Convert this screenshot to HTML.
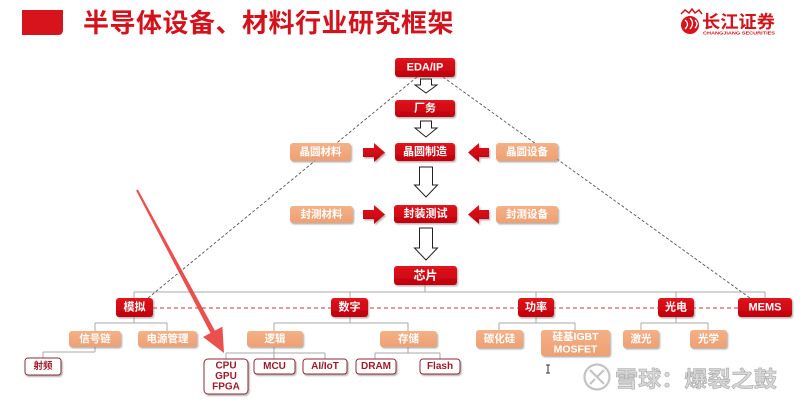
<!DOCTYPE html>
<html><head><meta charset="utf-8"><style>
html,body{margin:0;padding:0;background:#fff;}
svg{display:block;}
text{font-family:"Liberation Sans","Noto Sans CJK SC",sans-serif;font-weight:bold;}
</style></head><body>
<svg width="800" height="402" viewBox="0 0 800 402" xmlns="http://www.w3.org/2000/svg">
<defs>
<linearGradient id="rg" x1="0" y1="0" x2="0" y2="1"><stop offset="0" stop-color="#e2141c"/><stop offset="1" stop-color="#c0000c"/></linearGradient>
<linearGradient id="pg" x1="0" y1="0" x2="0" y2="1"><stop offset="0" stop-color="#f4b086"/><stop offset="1" stop-color="#eda073"/></linearGradient>
<filter id="sh" x="-20%" y="-30%" width="150%" height="180%"><feDropShadow dx="1.2" dy="1.5" stdDeviation="0.9" flood-color="#777" flood-opacity="0.55"/></filter>
</defs>
<rect width="800" height="402" fill="#fff"/>
<!-- header -->
<path d="M22 10 H63 V30 Q63 35 58 35 H22 Z" fill="#d7131b"/>
<text x="83" y="32" font-size="26" fill="#d3121b" letter-spacing="0.5">半导体设备、材料行业研究框架</text>
<!-- logo -->
<circle cx="690" cy="25" r="9" fill="#d7131b"/>
<path d="M685 20 q5 4 0 9 M690 18 q5 5 0 11 M695 20 q4 4 0 8" stroke="#fff" stroke-width="1.3" fill="none"/>
<path d="M681 14 l4 -4 l4 3 l3 -4 l3 4 l4 -3 l3 4" stroke="#d7131b" stroke-width="1.5" fill="none"/>
<text x="702" y="28" font-size="17.5" fill="#d3121b" textLength="73" lengthAdjust="spacingAndGlyphs">长江证券</text>
<text x="703" y="34.5" font-size="4.6" fill="#d3121b" textLength="72" lengthAdjust="spacingAndGlyphs">CHANGJIANG SECURITIES</text>

<!-- dashed diagonals -->
<line x1="417" y1="77" x2="148" y2="298" stroke="#555" stroke-width="0.9" stroke-dasharray="3 2"/>
<line x1="443" y1="77" x2="750" y2="298" stroke="#555" stroke-width="0.9" stroke-dasharray="3 2"/>
<!-- red dashed -->
<line x1="153" y1="308" x2="738" y2="308" stroke="#c23a44" stroke-width="1" stroke-dasharray="4 3"/>

<!-- tree lines -->
<g stroke="#a8a8a8" stroke-width="1" fill="none">
<path d="M425 285 V292 M134 292 H765 M134 292 V298 M350 292 V298 M536 292 V298 M676 292 V298 M765 292 V298"/>
<path d="M134 317 V323 M95 323 H167 M95 323 V331 M167 323 V331"/>
<path d="M95 347 V352 M43 352 H95 M43 352 V358"/>
<path d="M350 317 V323 M274 323 H408 M274 323 V331 M408 323 V331"/>
<path d="M274 347 V353 M226 353 H325 M226 353 V359 M274 353 V359 M325 353 V359"/>
<path d="M408 347 V353 M375 353 H440 M375 353 V359 M440 353 V359"/>
<path d="M536 317 V323 M499 323 H575 M499 323 V330 M575 323 V330"/>
<path d="M676 317 V323 M641 323 H708 M641 323 V330 M708 323 V330"/>
</g>

<!-- hollow arrows -->
<g fill="#fff" stroke="#222" stroke-width="1">
<path d="M420.5 79 H431.5 V85 H437 L426 93 L415 85 H420.5 Z"/>
<path d="M420.5 121 H431.5 V128 H437 L426 137 L415 128 H420.5 Z"/>
<path d="M419.5 167 H432.5 V185 H437.5 L426 197 L414.5 185 H419.5 Z"/>
<path d="M419.5 228 H432.5 V248 H437.5 L426 260 L414.5 248 H419.5 Z"/>
</g>

<!-- red block arrows -->
<g fill="url(#rg)" filter="url(#sh)">
<path d="M363 148 H374 V143 L385 152.5 L374 162 V157 H363 Z"/>
<path d="M489 148 H479 V143 L468 152.5 L479 162 V157 H489 Z"/>
<path d="M363 210 H374 V205 L385 214.5 L374 224 V219 H363 Z"/>
<path d="M489 210 H479 V205 L468 214.5 L479 224 V219 H489 Z"/>
</g>

<!-- red boxes -->
<g filter="url(#sh)" fill="url(#rg)">
<rect x="395" y="58" width="60" height="19" rx="3"/>
<rect x="395" y="100" width="60" height="17" rx="3"/>
<rect x="395" y="143" width="60" height="18" rx="3"/>
<rect x="394" y="205" width="63" height="18" rx="3"/>
<rect x="394" y="266" width="63" height="19" rx="3"/>
<rect x="116" y="298" width="37" height="19" rx="3"/>
<rect x="331" y="298" width="37" height="19" rx="3"/>
<rect x="518" y="298" width="36" height="19" rx="3"/>
<rect x="658" y="298" width="36" height="19" rx="3"/>
<rect x="738" y="298" width="54" height="19" rx="3"/>
</g>
<g fill="#fff" text-anchor="middle" dominant-baseline="central" font-size="11">
<text x="425" y="67.5">EDA/IP</text>
<text x="425" y="108.5">厂务</text>
<text x="425" y="152">晶圆制造</text>
<text x="425.5" y="214">封装测试</text>
<text x="425.5" y="275.5" font-size="12">芯片</text>
<text x="134.5" y="307.5">模拟</text>
<text x="349.5" y="307.5">数字</text>
<text x="536" y="307.5">功率</text>
<text x="676" y="307.5">光电</text>
<text x="765" y="307.5">MEMS</text>
</g>

<!-- peach boxes -->
<g filter="url(#sh)" fill="url(#pg)">
<rect x="290" y="143" width="61" height="18" rx="3"/>
<rect x="496" y="143" width="62" height="18" rx="3"/>
<rect x="290" y="206" width="63" height="17" rx="3"/>
<rect x="496" y="206" width="62" height="17" rx="3"/>
<rect x="69" y="331" width="52" height="16" rx="3"/>
<rect x="138" y="331" width="59" height="16" rx="3"/>
<rect x="247" y="331" width="56" height="16" rx="3"/>
<rect x="380" y="331" width="57" height="16" rx="3"/>
<rect x="476" y="330" width="47" height="18" rx="3"/>
<rect x="541" y="330" width="69" height="26" rx="3"/>
<rect x="623" y="330" width="36" height="18" rx="3"/>
<rect x="690" y="330" width="37" height="18" rx="3"/>
</g>
<g fill="#fff" text-anchor="middle" dominant-baseline="central" font-size="10.5">
<text x="320.5" y="152">晶圆材料</text>
<text x="527" y="152">晶圆设备</text>
<text x="321.5" y="214.5">封测材料</text>
<text x="527" y="214.5">封测设备</text>
<text x="95" y="339">信号链</text>
<text x="167.5" y="339">电源管理</text>
<text x="275" y="339">逻辑</text>
<text x="408.5" y="339">存储</text>
<text x="499.5" y="339">碳化硅</text>
<text x="575.5" y="337">硅基IGBT</text>
<text x="575.5" y="349.5">MOSFET</text>
<text x="641" y="339">激光</text>
<text x="708.5" y="339">光学</text>
</g>

<!-- outline boxes -->
<g filter="url(#sh)" fill="#fff" stroke="#8e2a36" stroke-width="1">
<rect x="25" y="358" width="36" height="17" rx="3"/>
<rect x="204" y="359" width="44" height="35" rx="4"/>
<rect x="254" y="359" width="41" height="15" rx="3"/>
<rect x="303" y="359" width="44" height="15" rx="3"/>
<rect x="356" y="359" width="40" height="15" rx="3"/>
<rect x="420" y="359" width="40" height="15" rx="3"/>
</g>
<g fill="#a01a2a" text-anchor="middle" dominant-baseline="central" font-size="10">
<text x="43" y="366.5" font-size="9.5">射频</text>
<text x="226" y="366">CPU</text>
<text x="226" y="376.5">GPU</text>
<text x="226" y="387">FPGA</text>
<text x="274.5" y="366.5">MCU</text>
<text x="325" y="366.5">AI/IoT</text>
<text x="376" y="366.5">DRAM</text>
<text x="440" y="366.5">Flash</text>
</g>

<!-- big red annotation arrow -->
<polygon points="136.1,190.5 137.9,189.5 214.9,330.6 222.4,326.6 224,353 203,337 210.5,333" fill="#e8413f" fill-opacity="0.92"/>

<!-- cursor -->
<g stroke="#333" stroke-width="1" fill="none">
<path d="M548 365 V373 M546 365 H550 M546 373 H550"/>
</g>

<!-- watermark -->
<g>
<circle cx="597" cy="377" r="12.5" fill="none" stroke="#c4c4c4" stroke-width="2.2"/>
<path d="M590 370 L604 384 M604 370 L597 377 M590 384 L595 379" stroke="#c4c4c4" stroke-width="2.2" fill="none"/>
<text x="615" y="387" font-size="22" fill="#d8d8d8" stroke="#a8a8a8" stroke-width="0.6" textLength="162" lengthAdjust="spacingAndGlyphs" font-weight="normal">雪球：爆裂之鼓</text>
</g>
</svg>
</body></html>
